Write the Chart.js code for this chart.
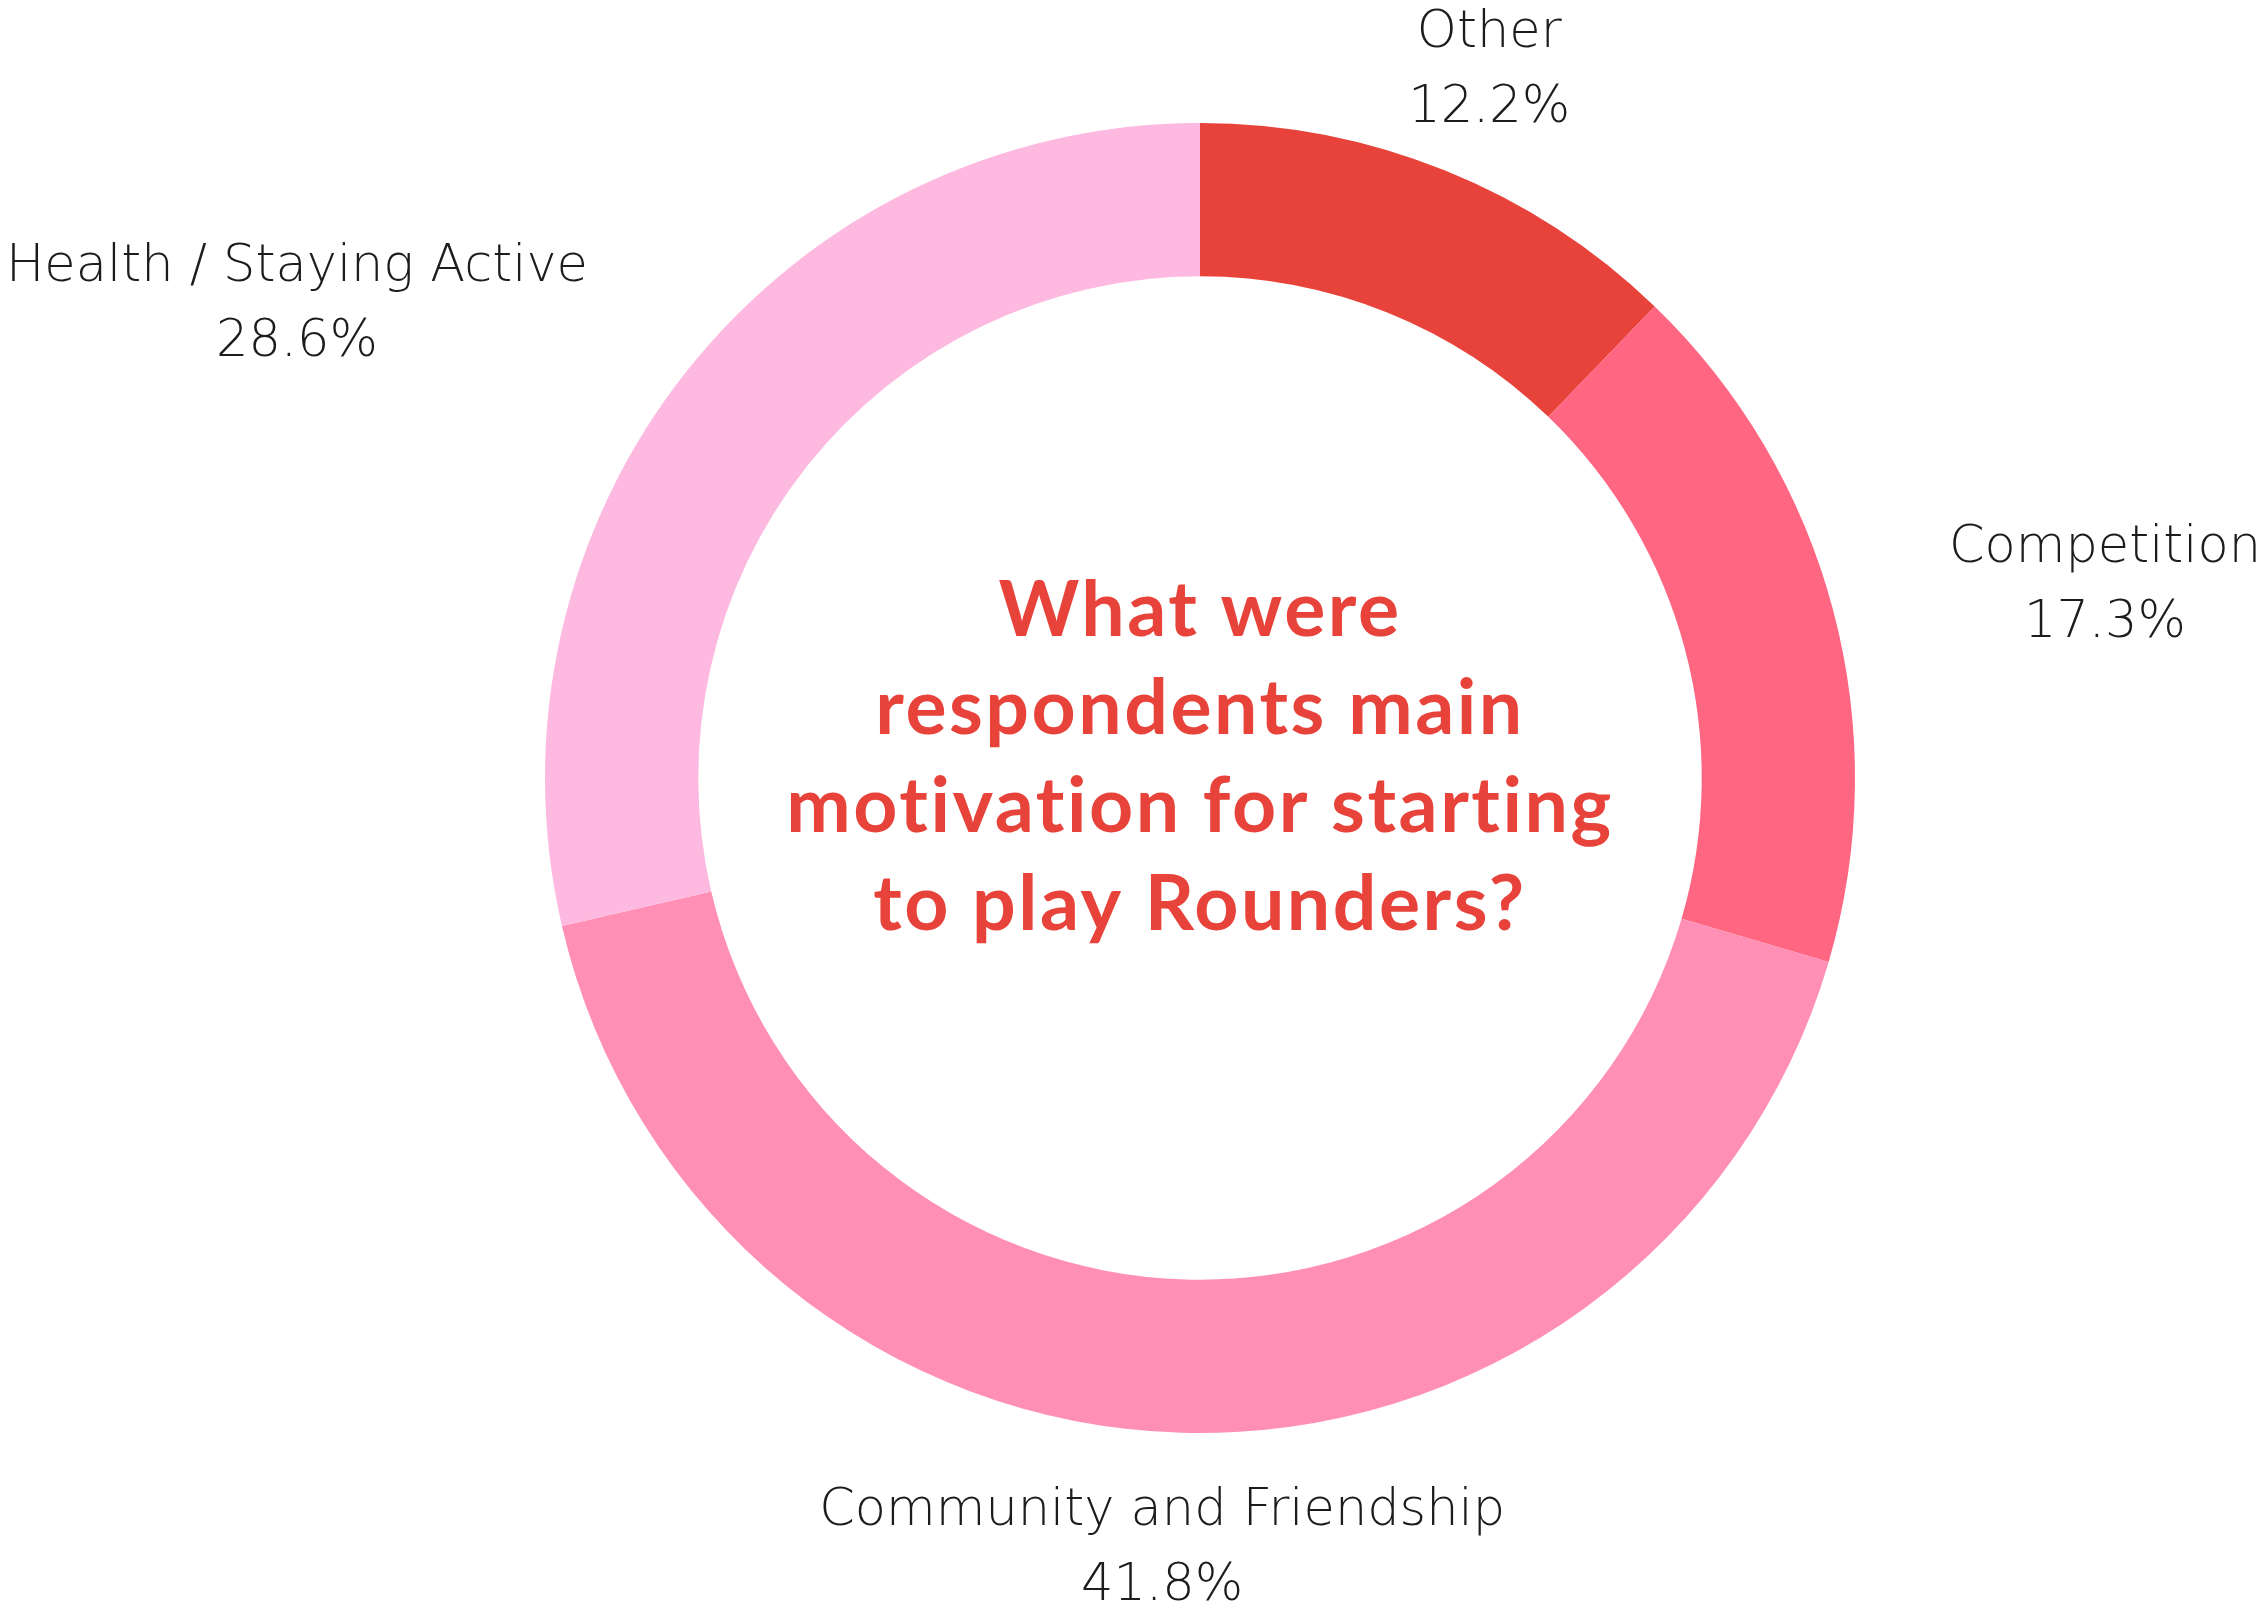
<!DOCTYPE html>
<html>
<head>
<meta charset="utf-8">
<title>Motivation for starting Rounders</title>
<script src="https://cdn.jsdelivr.net/npm/chart.js@4/dist/chart.umd.min.js"></script>
<style>
  html, body { margin: 0; padding: 0; background: #fff; }
  canvas { display: block; }
</style>
</head>
<body>
<canvas id="motivationChart" width="2267" height="1611"></canvas>
<script>
// survey answers, clockwise from 12 o'clock
var categories = ['Other', 'Competition', 'Community and Friendship', 'Health / Staying Active'];
var shares = [12.2, 17.3, 41.8, 28.6];
var sliceColours = ['#E8433B', '#FF6682', '#FF8FB5', '#FDB9E0'];
var titleLines = ['What were', 'respondents main', 'motivation for starting', 'to play Rounders?'];

var LABEL_FONT = '200 51px "DejaVu Sans", sans-serif';
var LABEL_CAP = 37;      // cap height of the label font, px
var LABEL_LINE = 75;     // distance between the two label baselines
var LABEL_GAP = 58;      // radial gap between ring and label
var EDGE = 6;            // how close labels sit to the canvas border

// labels sit outside the ring, pushed out to the nearest canvas edge
var outsideLabels = {
    id: 'outsideLabels',
    afterDraw: function(chart) {
        var ctx = chart.ctx;
        var W = chart.width, H = chart.height;
        var meta = chart.getDatasetMeta(0);
        ctx.save();
        ctx.font = LABEL_FONT;
        ctx.fillStyle = '#1c1c1c';
        ctx.textAlign = 'center';
        ctx.textBaseline = 'alphabetic';
        meta.data.forEach(function(arc, i) {
            var p = arc.getProps(['x', 'y', 'startAngle', 'endAngle', 'outerRadius'], true);
            var mid = (p.startAngle + p.endAngle) / 2;
            var dx = Math.cos(mid), dy = Math.sin(mid);
            var lines = [categories[i], shares[i].toFixed(1) + '%'];
            var w = Math.max(ctx.measureText(lines[0]).width, ctx.measureText(lines[1]).width);
            var h = LABEL_CAP + LABEL_LINE;
            var r = p.outerRadius + LABEL_GAP;
            var cx = p.x + r * dx + dx * w / 2;
            var cy = p.y + r * dy + dy * h / 2;
            if (Math.abs(dx) > Math.abs(dy)) {
                cx = dx > 0 ? W - EDGE - w / 2 : EDGE + w / 2;
            } else {
                cx -= 8;
                cy = dy < 0 ? EDGE + 4 + h / 2 : H - EDGE - 5 - h / 2;
            }
            var top = cy - h / 2;
            ctx.fillText(lines[0], cx, top + LABEL_CAP);
            ctx.fillText(lines[1], cx, top + LABEL_CAP + LABEL_LINE);
        });
        ctx.restore();
    }
};

// question text in the hole of the doughnut
var centreTitle = {
    id: 'centreTitle',
    afterDraw: function(chart) {
        var ctx = chart.ctx;
        var arc = chart.getDatasetMeta(0).data[0];
        var x = arc.x, y = arc.y;
        var lh = 98;
        ctx.save();
        ctx.font = 'bold 77px Lato, sans-serif';
        ctx.letterSpacing = '2.5px';
        ctx.fillStyle = '#E8433B';
        ctx.textAlign = 'center';
        ctx.textBaseline = 'alphabetic';
        var firstBase = y - 142;
        titleLines.forEach(function(line, k) {
            ctx.fillText(line, x, firstBase + k * lh);
        });
        ctx.restore();
    }
};

var ctx = document.getElementById('motivationChart').getContext('2d');
var chart = new Chart(ctx, {
    type: 'doughnut',
    data: {
        labels: categories,
        datasets: [{
            data: shares,
            backgroundColor: sliceColours,
            borderWidth: 0,
            hoverOffset: 0
        }]
    },
    options: {
        responsive: false,
        animation: false,
        cutout: '76.6%',
        layout: {
            padding: { left: 333, right: 200, top: 123, bottom: 178 }
        },
        plugins: {
            legend: { display: false },
            tooltip: { enabled: false }
        }
    },
    plugins: [outsideLabels, centreTitle]
});
</script>
</body>
</html>
